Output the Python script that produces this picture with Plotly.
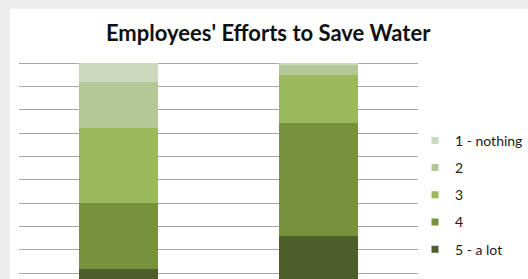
import plotly.graph_objects as go

categories = ["Group A", "Group B"]
levels = ["1 - nothing", "2", "3", "4", "5 - a lot"]
level_1 = [8.2, 0.9]
level_2 = [19.7, 4.3]
level_3 = [32.2, 20.6]
level_4 = [27.9, 48.2]
level_5 = [12.0, 26.0]
colors = ["#cdd9bc", "#b4c797", "#9ab95c", "#77913c", "#4e5e2a"]

series = [level_1, level_2, level_3, level_4, level_5]

W, H = 528, 279
px_per_pct = 23.33 / 10.0
L, R, T, B = 19.3, 424.0, 58.3, 279.0
y_top = 100 + (63.3 - T) / px_per_pct
y_bottom = (296.7 - B) / px_per_pct

fig = go.Figure()
# stack: level 5 at bottom
for i in [4, 3, 2, 1, 0]:
    fig.add_trace(go.Bar(
        x=categories, y=series[i], name=levels[i],
        marker=dict(color=colors[i], line=dict(width=0)),
        showlegend=False,
    ))
# legend entries (small square markers), listed 1..5 top to bottom
for i in [0, 1, 2, 3, 4]:
    fig.add_trace(go.Scatter(
        x=[None], y=[None], mode="markers", name=levels[i],
        marker=dict(symbol="square", size=7, color=colors[i]),
        legendgroup=levels[i], showlegend=True,
    ))

pw = R - L
ph = B - T
fig.update_layout(
    width=W, height=H,
    margin=dict(l=L, r=W - R, t=T, b=0, pad=0),
    barmode="stack", bargap=0.605,
    paper_bgcolor="#ececec", plot_bgcolor="white",
    font=dict(family="Lato, Carlito, sans-serif", size=13, color="#1a1a1a"),
    title=dict(text="<b>Employees' Efforts to Save Water</b>",
               x=(272 - L) / pw, xref="paper", xanchor="center",
               y=1 - 33 / H, yref="container", yanchor="middle",
               font=dict(size=22, color="#111111")),
    xaxis=dict(visible=False, showgrid=False),
    yaxis=dict(range=[y_bottom, y_top], dtick=10, showgrid=True, gridcolor="#a6a6a6",
               gridwidth=1, showticklabels=False, zeroline=False, showline=False,
               ticks=""),
    legend=dict(x=(421 - L) / pw, xanchor="left", y=1 - (125 - T) / ph, yanchor="top",
                traceorder="grouped", tracegroupgap=6,
                bgcolor="rgba(0,0,0,0)", font=dict(size=14, color="#1a1a1a"),
                itemwidth=30),
    shapes=[dict(type="rect", xref="paper", yref="paper",
                 x0=(10 - L) / pw, x1=(W + 20 - L) / pw,
                 y0=-0.2, y1=1 + (T - 9) / ph,
                 fillcolor="white", line=dict(width=0), layer="below")],
)

fig.write_html("out.html", config={"displayModeBar": False},
               post_script="document.body.style.margin='0';document.body.style.overflow='hidden';")
